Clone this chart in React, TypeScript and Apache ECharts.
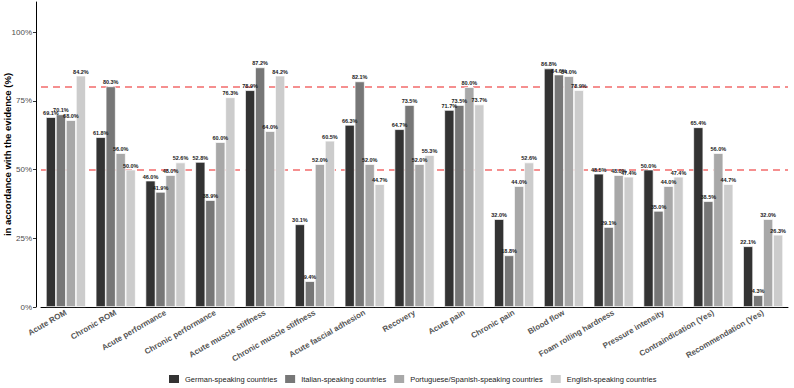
import React, { useEffect, useRef } from "react";
import * as echarts from "echarts";

const categories = [
  "Acute ROM",
  "Chronic ROM",
  "Acute performance",
  "Chronic performance",
  "Acute muscle stiffness",
  "Chronic muscle stiffness",
  "Acute fascial adhesion",
  "Recovery",
  "Acute pain",
  "Chronic pain",
  "Blood flow",
  "Foam rolling hardness",
  "Pressure intensity",
  "Contraindication (Yes)",
  "Recommendation (Yes)",
];

const seriesNames = [
  "German-speaking countries",
  "Italian-speaking countries",
  "Portuguese/Spanish-speaking countries",
  "English-speaking countries",
];

const german = [69.1, 61.8, 46.0, 52.8, 78.9, 30.1, 66.3, 64.7, 71.7, 32.0, 86.8, 48.5, 50.0, 65.4, 22.1];
const italian = [70.1, 80.3, 41.9, 38.9, 87.2, 9.4, 82.1, 73.5, 73.5, 18.8, 84.6, 29.1, 35.0, 38.5, 4.3];
const portuguese = [68.0, 56.0, 48.0, 60.0, 64.0, 52.0, 52.0, 52.0, 80.0, 44.0, 84.0, 48.0, 44.0, 56.0, 32.0];
const english = [84.2, 50.0, 52.6, 76.3, 84.2, 60.5, 44.7, 55.3, 73.7, 52.6, 78.9, 47.4, 47.4, 44.7, 26.3];

const referenceLines = [50, 80];
const yTicks = [0, 25, 50, 75, 100];
const colors = ["#333333", "#777777", "#a8a8a8", "#cccccc"];

const FONT = "Liberation Sans, Arial, sans-serif";

export default function App() {
  const ref = useRef<HTMLDivElement>(null);

  useEffect(() => {
    if (!ref.current) return;
    const chart = echarts.init(ref.current, undefined, { renderer: "svg" });
    const data = [german, italian, portuguese, english];

    const barSeries: any[] = data.map((vals, i) => ({
      name: seriesNames[i],
      type: "bar",
      data: vals,
      barWidth: 10,
      barGap: "0%",
      z: 3,
      itemStyle: { color: colors[i], borderColor: "#ffffff", borderWidth: 0.7 },
      label: {
        show: true,
        position: "top",
        distance: 1,
        fontSize: 5.5,
        fontWeight: "bold",
        fontFamily: FONT,
        color: "#1a1a1a",
        formatter: (p: any) => `${Number(p.value).toFixed(1)}%`,
      },
    }));

    barSeries.push({
      name: "ref",
      type: "line",
      data: [],
      z: 1,
      silent: true,
      markLine: {
        z: 1,
        symbol: "none",
        silent: true,
        label: { show: false },
        lineStyle: { color: "#f26b6b", type: [7, 5], width: 1.6 },
        data: referenceLines.map((v) => ({ yAxis: v })),
      },
    });

    chart.setOption({
      animation: false,
      textStyle: { fontFamily: FONT },
      grid: { left: 41, right: 6, top: 2, bottom: 81, outerBoundsMode: "none", containLabel: false },
      legend: {
        data: seriesNames,
        bottom: 3,
        left: 167,
        padding: 0,
        itemWidth: 12,
        itemHeight: 10,
        itemGap: 6,
        icon: "rect",
        textStyle: { fontSize: 7.5, color: "#222", fontFamily: FONT },
      },
      xAxis: {
        type: "category",
        data: categories,
        axisLine: { lineStyle: { color: "#000", width: 1 } },
        axisTick: { alignWithLabel: true, length: 3, lineStyle: { color: "#333" } },
        axisLabel: {
          rotate: 30,
          fontSize: 8,
          fontWeight: "bold",
          color: "#555555",
          margin: 5,
          interval: 0,
          fontFamily: FONT,
        },
      },
      yAxis: {
        type: "value",
        min: 0,
        max: 111,
        interval: 25,
        offset: 5,
        name: "in accordance with the evidence (%)",
        nameLocation: "middle",
        nameGap: 24,
        nameMoveOverlap: false,
        nameTextStyle: { fontSize: 9.5, fontWeight: "bold", color: "#000", fontFamily: FONT },
        splitLine: { show: false },
        axisLine: { show: true, lineStyle: { color: "#000", width: 1 } },
        axisTick: { show: true, length: 3, customValues: yTicks, lineStyle: { color: "#333" } },
        axisLabel: {
          customValues: yTicks,
          fontSize: 8,
          color: "#4d4d4d",
          margin: 4,
          fontFamily: FONT,
          formatter: (v: number) => `${v}%`,
        },
      },
      series: barSeries,
    });

    return () => chart.dispose();
  }, []);

  return (
    <div
      ref={ref}
      style={{ position: "fixed", left: 0, top: 0, width: 794, height: 388, background: "#fff" }}
    />
  );
}
